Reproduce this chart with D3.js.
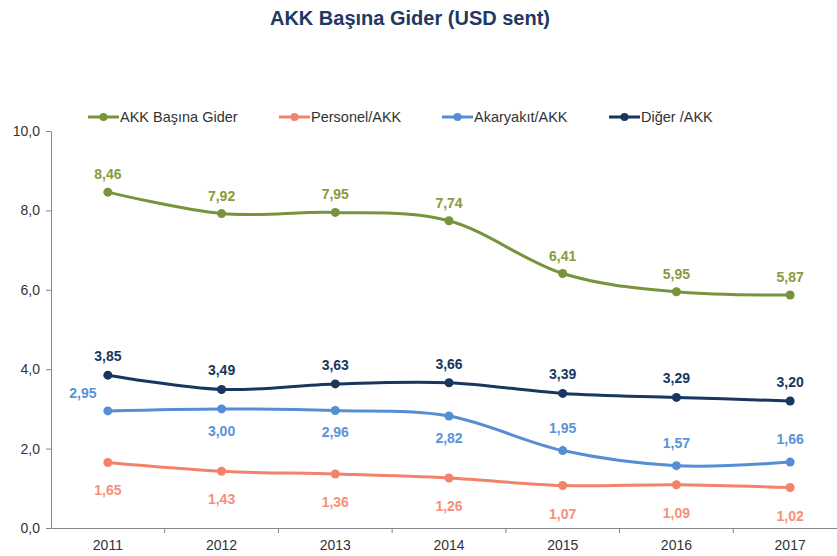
<!DOCTYPE html>
<meta charset="utf-8">
<html>
  <head>
    <style>
      body { margin: 0; background: #fff; }
      text { font-family: Arial, "Liberation Sans", sans-serif; }
      .axis path, .axis line { stroke: #868686; }
      .axis text { font-size: 14px; fill: #333; }
      .title { font-size: 20px; font-weight: bold; fill: #1f3864; }
      .legend text { font-size: 14.5px; fill: #333; }
      .lbl { font-size: 14px; font-weight: bold; }
    </style>
    <script src="https://cdn.jsdelivr.net/npm/d3@7"></script>
  </head>
  <body>
    <script>

      var width = 837,
	  height = 556;

      var years = ["2011", "2012", "2013", "2014", "2015", "2016", "2017"];
      var giderValues = [8.46, 7.92, 7.95, 7.74, 6.41, 5.95, 5.87];
      var personelValues = [1.65, 1.43, 1.36, 1.26, 1.07, 1.09, 1.02];
      var akaryakitValues = [2.95, 3.00, 2.96, 2.82, 1.95, 1.57, 1.66];
      var digerValues = [3.85, 3.49, 3.63, 3.66, 3.39, 3.29, 3.20];
      var seriesNames = ["AKK Başına Gider", "Personel/AKK", "Akaryakıt/AKK", "Diğer /AKK"];
      var yTicks = [0, 2, 4, 6, 8, 10];

      // line colour, label colour, label offsets per point (dx, dy)
      var series = [
	  { name: seriesNames[0], values: giderValues, color: "#77933c", lcolor: "#8a9a3c",
	    off: function(i) { return [0, -13]; } },
	  { name: seriesNames[1], values: personelValues, color: "#f4826a", lcolor: "#f7907a",
	    off: function(i) { return [0, 33]; } },
	  { name: seriesNames[2], values: akaryakitValues, color: "#558ed5", lcolor: "#5b93d8",
	    off: function(i) { return i == 0 ? [-25, -13] : (i <= 3 ? [0, 27] : [0, -18]); } },
	  { name: seriesNames[3], values: digerValues, color: "#17375e", lcolor: "#17375e",
	    off: function(i) { return [0, -14]; } }
      ];

      var svg = d3.select("body").append("svg")
	  .attr("width", width)
	  .attr("height", height);

      var x = d3.scaleBand()
	  .domain(years)
	  .range([51, 847]);

      var y = d3.scaleLinear()
	  .domain([0, 10])
	  .range([528, 131]);

      // title
      svg.append("text")
	  .attr("class", "title")
	  .attr("x", 410)
	  .attr("y", 25)
	  .attr("text-anchor", "middle")
	  .text("AKK Başına Gider (USD sent)");

      // axes
      var yAxis = svg.append("g")
	  .attr("class", "axis")
	  .attr("transform", "translate(51,0)")
	  .call(d3.axisLeft(y).tickValues(yTicks).tickSize(5).tickSizeOuter(0)
		.tickFormat(function(d) { return d3.format(".1f")(d).replace(".", ","); }));
      yAxis.selectAll("text").attr("x", -11);

      var xAxis = svg.append("g")
	  .attr("class", "axis")
	  .attr("transform", "translate(0,528)")
	  .call(d3.axisBottom(x).tickSize(0).tickSizeOuter(0));
      xAxis.selectAll("text").attr("y", 12);

      // category separator ticks
      svg.append("g")
	  .selectAll("line")
	  .data(years.slice(1).concat(["end"]))
	  .enter().append("line")
	  .attr("x1", function(d, i) { return x(years[0]) + x.bandwidth() * (i + 1); })
	  .attr("x2", function(d, i) { return x(years[0]) + x.bandwidth() * (i + 1); })
	  .attr("y1", 528)
	  .attr("y2", 533)
	  .attr("stroke", "#868686");

      var line = d3.line()
	  .x(function(d, i) { return x(years[i]) + x.bandwidth() / 2; })
	  .y(function(d) { return y(d); })
	  .curve(d3.curveCardinal.tension(0));

      var g = svg.selectAll(".series")
	  .data(series)
	  .enter().append("g")
	  .attr("class", "series");

      g.append("path")
	  .attr("d", function(s) { return line(s.values); })
	  .attr("fill", "none")
	  .attr("stroke", function(s) { return s.color; })
	  .attr("stroke-width", 3);

      g.each(function(s) {
	  var sel = d3.select(this);
	  sel.selectAll("circle")
	      .data(s.values)
	      .enter().append("circle")
	      .attr("cx", function(d, i) { return x(years[i]) + x.bandwidth() / 2; })
	      .attr("cy", function(d) { return y(d); })
	      .attr("r", 4.5)
	      .attr("fill", s.color);

	  sel.selectAll("text")
	      .data(s.values)
	      .enter().append("text")
	      .attr("class", "lbl")
	      .attr("text-anchor", "middle")
	      .attr("x", function(d, i) { return x(years[i]) + x.bandwidth() / 2 + s.off(i)[0]; })
	      .attr("y", function(d, i) { return y(d) + s.off(i)[1]; })
	      .attr("fill", s.lcolor)
	      .text(function(d) { return d3.format(".2f")(d).replace(".", ","); });
      });

      // legend
      var legendX = [88, 279, 442, 609];
      var legend = svg.selectAll(".legend")
	  .data(series)
	  .enter().append("g")
	  .attr("class", "legend")
	  .attr("transform", function(d, i) { return "translate(" + legendX[i] + ",117)"; });

      legend.append("line")
	  .attr("x1", 0)
	  .attr("x2", 31)
	  .attr("stroke", function(d) { return d.color; })
	  .attr("stroke-width", 3);

      legend.append("circle")
	  .attr("cx", 15.5)
	  .attr("r", 4)
	  .attr("fill", function(d) { return d.color; });

      legend.append("text")
	  .attr("x", 32)
	  .attr("y", 5)
	  .text(function(d) { return d.name; });

    </script>
  </body>
</html>
